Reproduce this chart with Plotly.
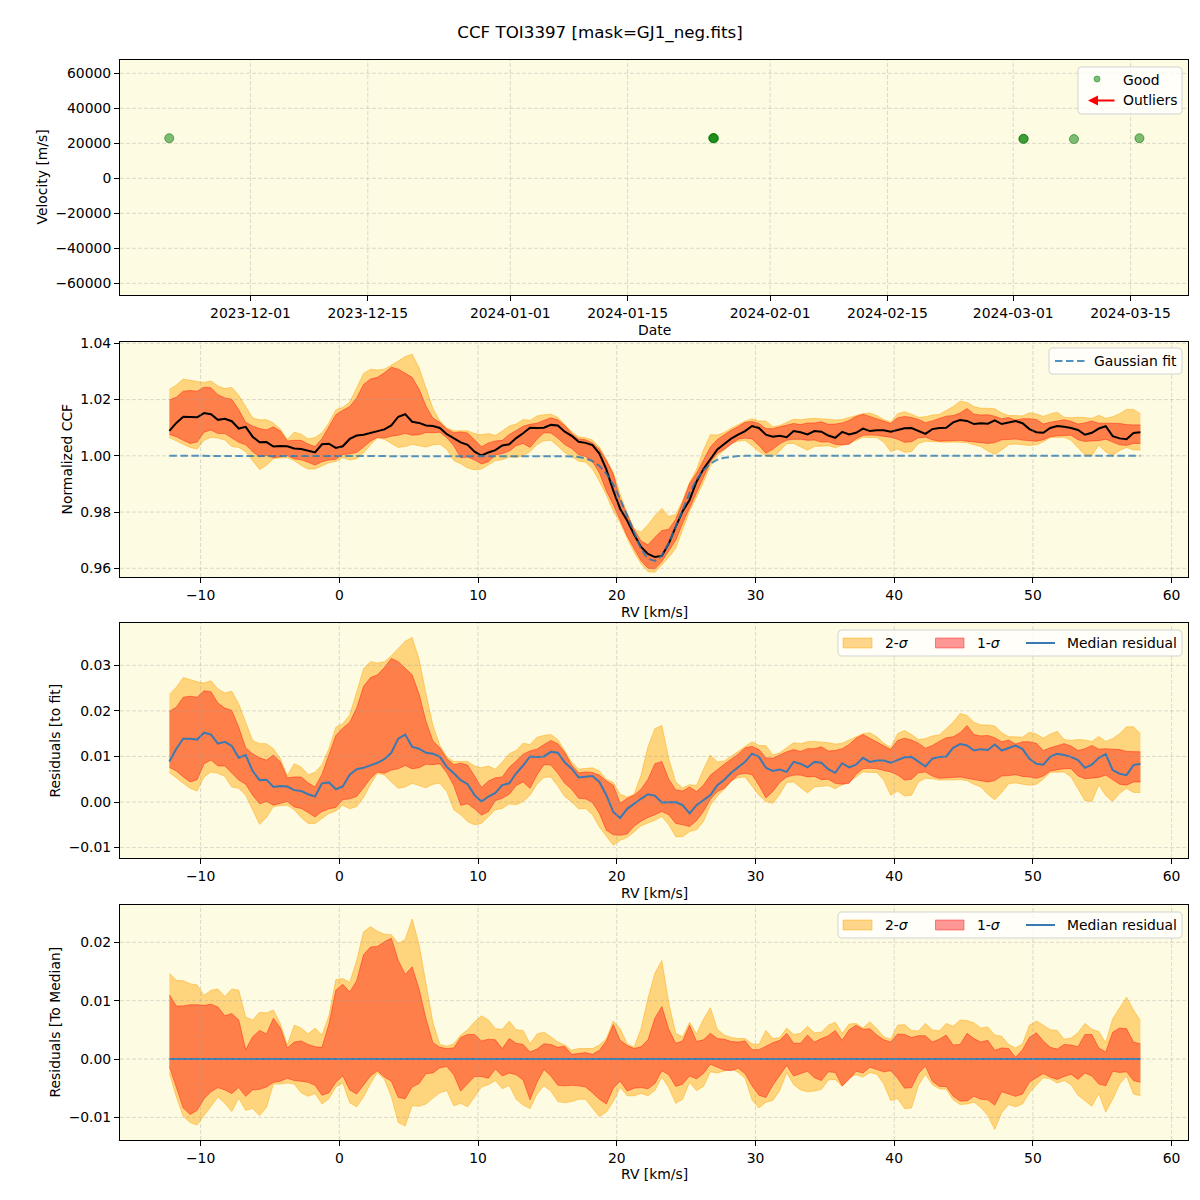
import numpy as np
import plotly.graph_objects as go

TITLE = "CCF TOI3397 [mask=GJ1_neg.fits]"

# ---------------- top panel: RV time series ----------------
obs_dates = ["2023-11-21 07:30", "2024-01-25 05:00", "2024-01-25 06:00", "2024-01-25 07:00",
             "2024-03-02 05:00", "2024-03-02 06:00", "2024-03-08 06:00", "2024-03-16 01:30"]
obs_vel = [22900, 22900, 23000, 22800, 22500, 22600, 22400, 22900]

date_ticks = ["2023-12-01", "2023-12-15", "2024-01-01", "2024-01-15",
              "2024-02-01", "2024-02-15", "2024-03-01", "2024-03-15"]
vel_ticks = [-60000, -40000, -20000, 0, 20000, 40000, 60000]
rv_ticks = [-10, 0, 10, 20, 30, 40, 50, 60]
ccf_ticks = [0.96, 0.98, 1.00, 1.02, 1.04]
res_ticks = [-0.01, 0.00, 0.01, 0.02, 0.03]
med_ticks = [-0.01, 0.00, 0.01, 0.02]

# ---------------- CCF data (RV grid, km/s) ----------------
rv = np.round(np.arange(-12.25, 57.76, 0.5), 2)

gauss_fit = [1.0] * 57 + [
    0.9999, 0.9998, 0.9996, 0.9991, 0.9981, 0.9964, 0.9937, 0.9898, 0.9846, 0.9785,
    0.9723, 0.9669, 0.9634, 0.9626, 0.9645, 0.9689, 0.9747, 0.9810, 0.9868, 0.9915,
    0.9949, 0.9972, 0.9986, 0.9993, 0.9997, 0.9999] + [1.0] * 58

res_median = [
    0.0089, 0.0117, 0.0139, 0.0139, 0.0137, 0.0152, 0.0148, 0.0128, 0.0132, 0.0123,
    0.0097, 0.0103, 0.0068, 0.0048, 0.0049, 0.0033, 0.0035, 0.0034, 0.0026, 0.0024,
    0.0017, 0.0012, 0.0041, 0.0043, 0.0028, 0.0034, 0.0060, 0.0072, 0.0075, 0.0081,
    0.0086, 0.0094, 0.0108, 0.0139, 0.0148, 0.0121, 0.0117, 0.0108, 0.0106, 0.0099,
    0.0077, 0.0063, 0.0048, 0.0039, 0.0015, 0.0001, 0.0012, 0.0020, 0.0037,
    0.0041, 0.0063, 0.0080, 0.0100, 0.0099, 0.0100, 0.0110, 0.0108, 0.0087, 0.0073,
    0.0054, 0.0055, 0.0057, 0.0044, 0.0015, -0.0022, -0.0035, -0.0015, -0.0003, 0.0007,
    0.0017, 0.0014, -0.0001, -0.0001, 0.0000, -0.0007, -0.0025, -0.0007, 0.0004, 0.0015,
    0.0037, 0.0049, 0.0064, 0.0076, 0.0088, 0.0106, 0.0099, 0.0075, 0.0068, 0.0071,
    0.0066, 0.0088, 0.0084, 0.0076, 0.0088, 0.0086, 0.0072,
    0.0064, 0.0085, 0.0076, 0.0082, 0.0097, 0.0088, 0.0091, 0.0091, 0.0086, 0.0092,
    0.0098, 0.0099, 0.0089, 0.0078, 0.0095, 0.0099, 0.0100, 0.0119, 0.0127, 0.0124,
    0.0113, 0.0116, 0.0114, 0.0126, 0.0113, 0.0118, 0.0124, 0.0116, 0.0095, 0.0084,
    0.0082, 0.0099, 0.0106, 0.0103, 0.0099, 0.0092, 0.0075, 0.0082, 0.0097, 0.0105,
    0.0070, 0.0062, 0.0059, 0.0081, 0.0084]

res_hi1 = [
    0.0199, 0.0208, 0.0230, 0.0232, 0.0230, 0.0244, 0.0242, 0.0217, 0.0206, 0.0201,
    0.0164, 0.0119, 0.0106, 0.0097, 0.0092, 0.0103, 0.0088, 0.0053, 0.0055, 0.0055,
    0.0042, 0.0033, 0.0061, 0.0103, 0.0146, 0.0162, 0.0175, 0.0206, 0.0254, 0.0273,
    0.0279, 0.0295, 0.0315, 0.0308, 0.0293, 0.0279, 0.0237, 0.0177, 0.0134, 0.0119,
    0.0095, 0.0082, 0.0085, 0.0081, 0.0057, 0.0032, 0.0046, 0.0053, 0.0055,
    0.0076, 0.0090, 0.0105, 0.0112, 0.0116, 0.0126, 0.0135, 0.0128, 0.0109, 0.0081,
    0.0064, 0.0066, 0.0065, 0.0059, 0.0046, 0.0037, -0.0003, 0.0008, 0.0015, 0.0028,
    0.0050, 0.0084, 0.0089, 0.0050, 0.0027, 0.0024, 0.0033, 0.0023, 0.0037, 0.0059,
    0.0072, 0.0083, 0.0094, 0.0105, 0.0119, 0.0122, 0.0115, 0.0097, 0.0096, 0.0103,
    0.0110, 0.0115, 0.0111, 0.0117, 0.0117, 0.0121, 0.0112,
    0.0113, 0.0117, 0.0126, 0.0140, 0.0148, 0.0140, 0.0132, 0.0124, 0.0115, 0.0135,
    0.0140, 0.0136, 0.0129, 0.0118, 0.0124, 0.0133, 0.0141, 0.0143, 0.0152, 0.0168,
    0.0148, 0.0145, 0.0146, 0.0141, 0.0132, 0.0136, 0.0127, 0.0132, 0.0132, 0.0129,
    0.0113, 0.0119, 0.0123, 0.0128, 0.0123, 0.0113, 0.0117, 0.0124, 0.0116, 0.0117,
    0.0116, 0.0115, 0.0111, 0.0110, 0.0110]

res_lo1 = [
    0.0076, 0.0068, 0.0055, 0.0044, 0.0049, 0.0084, 0.0092, 0.0079, 0.0079, 0.0064,
    0.0048, 0.0039, 0.0015, -0.0004, 0.0001, -0.0007, -0.0003, 0.0001, -0.0011, -0.0014,
    -0.0023, -0.0033, -0.0021, -0.0015, -0.0012, 0.0005, 0.0007, 0.0012, 0.0031, 0.0052,
    0.0066, 0.0063, 0.0070, 0.0073, 0.0080, 0.0073, 0.0075, 0.0083, 0.0082, 0.0084,
    0.0064, 0.0036, -0.0007, -0.0004, -0.0015, -0.0029, -0.0021, 0.0003, 0.0008,
    0.0017, 0.0036, 0.0044, 0.0030, 0.0059, 0.0082, 0.0081, 0.0063, 0.0041, 0.0028,
    0.0008, 0.0007, -0.0001, -0.0025, -0.0062, -0.0072, -0.0073, -0.0070, -0.0053, -0.0042,
    -0.0034, -0.0028, -0.0021, -0.0028, -0.0047, -0.0050, -0.0054, -0.0041, -0.0021, 0.0006,
    0.0023, 0.0030, 0.0044, 0.0060, 0.0063, 0.0060, 0.0037, 0.0009, 0.0023, 0.0043,
    0.0055, 0.0059, 0.0059, 0.0055, 0.0056, 0.0049, 0.0050,
    0.0041, 0.0039, 0.0041, 0.0061, 0.0073, 0.0074, 0.0073, 0.0069, 0.0066, 0.0059,
    0.0048, 0.0050, 0.0064, 0.0066, 0.0057, 0.0052, 0.0053, 0.0055, 0.0055, 0.0052,
    0.0049, 0.0047, 0.0044, 0.0047, 0.0057, 0.0058, 0.0060, 0.0056, 0.0055, 0.0052,
    0.0057, 0.0068, 0.0071, 0.0073, 0.0073, 0.0057, 0.0051, 0.0053, 0.0054, 0.0059,
    0.0049, 0.0039, 0.0037, 0.0044, 0.0044]

res_hi2 = [
    0.0236, 0.0252, 0.0273, 0.0268, 0.0264, 0.0261, 0.0266, 0.0248, 0.0239, 0.0243,
    0.0215, 0.0175, 0.0135, 0.0128, 0.0128, 0.0117, 0.0095, 0.0058, 0.0084, 0.0077,
    0.0060, 0.0065, 0.0082, 0.0117, 0.0164, 0.0172, 0.0191, 0.0241, 0.0293, 0.0308,
    0.0305, 0.0308, 0.0321, 0.0337, 0.0353, 0.0361, 0.0313, 0.0237, 0.0168, 0.0124,
    0.0099, 0.0089, 0.0089, 0.0089, 0.0079, 0.0075, 0.0079, 0.0072, 0.0088,
    0.0106, 0.0113, 0.0129, 0.0126, 0.0142, 0.0146, 0.0148, 0.0137, 0.0111, 0.0088,
    0.0072, 0.0073, 0.0075, 0.0068, 0.0050, 0.0043, 0.0017, 0.0011, 0.0017, 0.0059,
    0.0121, 0.0161, 0.0168, 0.0095, 0.0044, 0.0031, 0.0038, 0.0036, 0.0072, 0.0103,
    0.0088, 0.0090, 0.0101, 0.0111, 0.0123, 0.0132, 0.0124, 0.0124, 0.0103, 0.0108,
    0.0119, 0.0130, 0.0128, 0.0132, 0.0133, 0.0132, 0.0130,
    0.0127, 0.0129, 0.0136, 0.0143, 0.0150, 0.0152, 0.0143, 0.0129, 0.0120, 0.0150,
    0.0157, 0.0148, 0.0137, 0.0139, 0.0145, 0.0147, 0.0161, 0.0175, 0.0194, 0.0190,
    0.0175, 0.0169, 0.0169, 0.0167, 0.0152, 0.0143, 0.0143, 0.0142, 0.0153, 0.0149,
    0.0140, 0.0149, 0.0155, 0.0137, 0.0135, 0.0137, 0.0136, 0.0133, 0.0144, 0.0133,
    0.0139, 0.0150, 0.0165, 0.0165, 0.0150]

res_lo2 = [
    0.0065, 0.0052, 0.0041, 0.0030, 0.0024, 0.0055, 0.0066, 0.0063, 0.0056, 0.0033,
    0.0030, 0.0015, -0.0017, -0.0049, -0.0034, -0.0010, -0.0008, -0.0007, -0.0017, -0.0034,
    -0.0047, -0.0047, -0.0036, -0.0025, -0.0020, -0.0007, -0.0015, -0.0010, 0.0010, 0.0039,
    0.0063, 0.0059, 0.0044, 0.0030, 0.0033, 0.0041, 0.0036, 0.0031, 0.0039, 0.0041,
    0.0023, -0.0017, -0.0028, -0.0043, -0.0050, -0.0047, -0.0032, -0.0017, -0.0014,
    -0.0004, -0.0006, 0.0001, 0.0015, 0.0039, 0.0054, 0.0055, 0.0035, 0.0012, 0.0000,
    -0.0015, -0.0014, -0.0028, -0.0055, -0.0076, -0.0095, -0.0084, -0.0078, -0.0066, -0.0052,
    -0.0046, -0.0040, -0.0032, -0.0050, -0.0076, -0.0076, -0.0065, -0.0061, -0.0043, -0.0007,
    0.0013, 0.0028, 0.0047, 0.0053, 0.0055, 0.0036, 0.0015, 0.0001, -0.0003, 0.0017,
    0.0043, 0.0044, 0.0031, 0.0020, 0.0033, 0.0034, 0.0036,
    0.0029, 0.0038, 0.0044, 0.0055, 0.0066, 0.0065, 0.0065, 0.0048, 0.0015, 0.0024,
    0.0013, 0.0015, 0.0044, 0.0052, 0.0051, 0.0048, 0.0048, 0.0049, 0.0049, 0.0047,
    0.0039, 0.0033, 0.0017, 0.0005, 0.0021, 0.0040, 0.0042, 0.0039, 0.0037, 0.0039,
    0.0050, 0.0065, 0.0065, 0.0066, 0.0055, 0.0030, 0.0003, 0.0001, 0.0038, 0.0014,
    0.0001, 0.0019, 0.0030, 0.0021, 0.0021]

for arr in (gauss_fit, res_median, res_hi1, res_lo1, res_hi2, res_lo2):
    assert len(arr) == len(rv), len(arr)

fit = np.array(gauss_fit)
r_med, r_hi1, r_lo1 = np.array(res_median), np.array(res_hi1), np.array(res_lo1)
r_hi2, r_lo2 = np.array(res_hi2), np.array(res_lo2)

# ---------------- styling helpers ----------------
FONT = "DejaVu Sans"
FS = 13.9
ORANGE = "rgba(255,165,0,0.45)"
RED = "rgba(255,0,0,0.40)"
BLUE = "#3a7ab3"
FIT_BLUE = "rgba(31,119,180,0.8)"
BG = "#fdfbe2"
GRID = "rgba(160,160,160,0.45)"

# the page body has an 8px margin: the figure is sized so it ends at the window edge
OFF = 8
W, H = 1192, 1192
L, R, T, B = 120 - OFF, 12, 60 - OFF, 60


def px(x):  # page pixel -> paper x
    return (x - OFF - L) / (W - L - R)


def py(y):  # page pixel -> paper y
    return (H - B - (y - OFF)) / (H - T - B)


def minus(s):
    return s.replace("-", "\u2212")


fig = go.Figure()


def band(xa, ya, lo, hi, color):
    fig.add_trace(go.Scatter(x=rv, y=lo, mode="lines", line=dict(color=color, width=1),
                             showlegend=False, hoverinfo="skip", xaxis=xa, yaxis=ya))
    fig.add_trace(go.Scatter(x=rv, y=hi, mode="lines", line=dict(color=color, width=1),
                             fill="tonexty", fillcolor=color, showlegend=False,
                             hoverinfo="skip", xaxis=xa, yaxis=ya))


# panel 1
fig.add_trace(go.Scatter(x=obs_dates, y=obs_vel, mode="markers",
                         marker=dict(color="rgba(0,128,0,0.5)", size=9,
                                     line=dict(color="rgba(0,110,0,0.55)", width=1)),
                         showlegend=False, xaxis="x", yaxis="y"))

# panel 2: CCF
band("x2", "y2", fit + r_lo2, fit + r_hi2, ORANGE)
band("x2", "y2", fit + r_lo1, fit + r_hi1, RED)
fig.add_trace(go.Scatter(x=rv, y=fit + r_med, mode="lines", line=dict(color="black", width=2),
                         showlegend=False, xaxis="x2", yaxis="y2"))
fig.add_trace(go.Scatter(x=rv, y=fit, mode="lines",
                         line=dict(color=FIT_BLUE, width=2, dash="7.5px,3.5px"),
                         showlegend=False, xaxis="x2", yaxis="y2"))

# panel 3: residuals to fit
band("x3", "y3", r_lo2, r_hi2, ORANGE)
band("x3", "y3", r_lo1, r_hi1, RED)
fig.add_trace(go.Scatter(x=rv, y=r_med, mode="lines", line=dict(color=BLUE, width=2),
                         showlegend=False, xaxis="x3", yaxis="y3"))

# panel 4: residuals to median
band("x4", "y4", r_lo2 - r_med, r_hi2 - r_med, ORANGE)
band("x4", "y4", r_lo1 - r_med, r_hi1 - r_med, RED)
fig.add_trace(go.Scatter(x=rv, y=r_med - r_med, mode="lines", line=dict(color=BLUE, width=2),
                         showlegend=False, xaxis="x4", yaxis="y4"))

axis_common = dict(showline=True, mirror=True, linecolor="black", linewidth=1,
                   ticks="outside", ticklen=5, tickwidth=1, tickcolor="black",
                   showgrid=False, zeroline=False,
                   tickfont=dict(family=FONT, size=FS, color="black"))

panels = [(60, 295), (342, 577), (623, 858), (905, 1140)]
doms = [[py(b), py(t)] for (t, b) in panels]

rv_range = [-15.81, 61.18]
layout_axes = dict(
    xaxis=dict(axis_common, domain=[0, 1], anchor="y", type="date",
               range=["2023-11-15 10:30", "2024-03-21 20:30"],
               tickvals=date_ticks, ticktext=date_ticks),
    yaxis=dict(axis_common, domain=doms[0], anchor="x", range=[-66700, 67600],
               tickvals=vel_ticks, ticktext=[minus(str(v)) for v in vel_ticks]),
    xaxis2=dict(axis_common, domain=[0, 1], anchor="y2", range=rv_range,
                tickvals=rv_ticks, ticktext=[minus(str(v)) for v in rv_ticks]),
    yaxis2=dict(axis_common, domain=doms[1], anchor="x2", range=[0.95691, 1.04047],
                tickvals=ccf_ticks, ticktext=[f"{v:.2f}" for v in ccf_ticks]),
    xaxis3=dict(axis_common, domain=[0, 1], anchor="y3", range=rv_range,
                tickvals=rv_ticks, ticktext=[minus(str(v)) for v in rv_ticks]),
    yaxis3=dict(axis_common, domain=doms[2], anchor="x3", range=[-0.01229, 0.03928],
                tickvals=res_ticks, ticktext=[minus(f"{v:.2f}") for v in res_ticks]),
    xaxis4=dict(axis_common, domain=[0, 1], anchor="y4", range=rv_range,
                tickvals=rv_ticks, ticktext=[minus(str(v)) for v in rv_ticks]),
    yaxis4=dict(axis_common, domain=doms[3], anchor="x4", range=[-0.01388, 0.02640],
                tickvals=med_ticks, ticktext=[minus(f"{v:.2f}") for v in med_ticks]),
)

annotations = []
shapes = []

# dashed grid drawn over the shaded bands (as in the original figure)
for xa, ya, xt, yt in [("x", "y", date_ticks, vel_ticks), ("x2", "y2", rv_ticks, ccf_ticks),
                       ("x3", "y3", rv_ticks, res_ticks), ("x4", "y4", rv_ticks, med_ticks)]:
    for v in xt:
        shapes.append(dict(type="line", xref=xa, yref=f"{ya} domain", x0=v, x1=v, y0=0, y1=1,
                           layer="above", line=dict(color=GRID, width=0.8, dash="4px,2px")))
    for v in yt:
        shapes.append(dict(type="line", xref=f"{xa} domain", yref=ya, x0=0, x1=1, y0=v, y1=v,
                           layer="above", line=dict(color=GRID, width=0.8, dash="4px,2px")))


def text(t, x, y, size=FS, angle=0, xanchor="center"):
    annotations.append(dict(text=t, x=px(x), y=py(y), xref="paper", yref="paper",
                            showarrow=False, textangle=angle, xanchor=xanchor, yanchor="middle",
                            font=dict(family=FONT, size=size, color="black")))


# axis titles
text("Velocity [m/s]", 41, 177.5, angle=-90)
text("Normalized CCF", 66, 459.5, angle=-90)
text("Residuals [to fit]", 54, 740.5, angle=-90)
text("Residuals [To Median]", 54, 1022.5, angle=-90)
text("Date", 654, 330)
text("RV [km/s]", 654, 612)
text("RV [km/s]", 654, 893)
text("RV [km/s]", 654, 1174)


def rrect(x0, y0, x1, y1, r=4):
    X = lambda v: f"{px(v):.6f}"
    Y = lambda v: f"{py(v):.6f}"
    path = (f"M {X(x0 + r)},{Y(y0)} L {X(x1 - r)},{Y(y0)} Q {X(x1)},{Y(y0)} {X(x1)},{Y(y0 + r)} "
            f"L {X(x1)},{Y(y1 - r)} Q {X(x1)},{Y(y1)} {X(x1 - r)},{Y(y1)} "
            f"L {X(x0 + r)},{Y(y1)} Q {X(x0)},{Y(y1)} {X(x0)},{Y(y1 - r)} "
            f"L {X(x0)},{Y(y0 + r)} Q {X(x0)},{Y(y0)} {X(x0 + r)},{Y(y0)} Z")
    shapes.append(dict(type="path", path=path, xref="paper", yref="paper", layer="above",
                       fillcolor="rgba(255,255,255,0.8)", line=dict(color="#d3d3d3", width=1)))


def rect(x0, y0, x1, y1, fill, line):
    shapes.append(dict(type="rect", x0=px(x0), x1=px(x1), y0=py(y1), y1=py(y0), xref="paper",
                       yref="paper", layer="above", fillcolor=fill, line=dict(color=line, width=1)))


def hline(x0, x1, y, color, width=2, dash="solid"):
    shapes.append(dict(type="line", x0=px(x0), x1=px(x1), y0=py(y), y1=py(y), xref="paper",
                       yref="paper", layer="above", line=dict(color=color, width=width, dash=dash)))


# legend panel 1
rrect(1078, 67, 1182, 114)
shapes.append(dict(type="circle", x0=px(1094), x1=px(1100), y0=py(82), y1=py(76), xref="paper",
                   yref="paper", layer="above", fillcolor="rgba(0,128,0,0.5)",
                   line=dict(color="rgba(0,128,0,0.5)", width=1)))
text("Good", 1121, 79.5, xanchor="left")
text("Outliers", 1121, 100, xanchor="left")
annotations.append(dict(x=px(1088), y=py(100.5), xref="paper", yref="paper", text="",
                        showarrow=True, ax=28, ay=0, arrowcolor="red", arrowwidth=2,
                        arrowhead=2, arrowsize=1))

# legend panel 2
rrect(1049, 348, 1182, 374)
hline(1055, 1085, 361, FIT_BLUE, width=2, dash="7.5px,3.5px")
text("Gaussian fit", 1092, 361, xanchor="left")

# legends panels 3 & 4
for (y0, y1) in [(630, 656), (912, 938)]:
    yc = (y0 + y1) / 2
    rrect(838, y0, 1182, y1)
    rect(843, yc - 5, 872, yc + 5, ORANGE, ORANGE)
    text("2-<i>σ</i>", 883, yc, xanchor="left")
    rect(935.5, yc - 5, 964, yc + 5, RED, RED)
    text("1-<i>σ</i>", 975, yc, xanchor="left")
    hline(1026, 1055, yc, BLUE, width=2)
    text("Median residual", 1065, yc, xanchor="left")

fig.update_layout(
    width=W, height=H, autosize=False,
    margin=dict(l=L, r=R, t=T, b=B, pad=0),
    paper_bgcolor="white", plot_bgcolor=BG,
    showlegend=False,
    title=dict(text=TITLE, x=(600 - OFF) / W, xanchor="center", y=1 - (32 - OFF) / H,
               yanchor="middle", font=dict(family=FONT, size=16.7, color="black")),
    font=dict(family=FONT, size=FS, color="black"),
    annotations=annotations, shapes=shapes,
    **layout_axes,
)

fig.write_html("out.html")
